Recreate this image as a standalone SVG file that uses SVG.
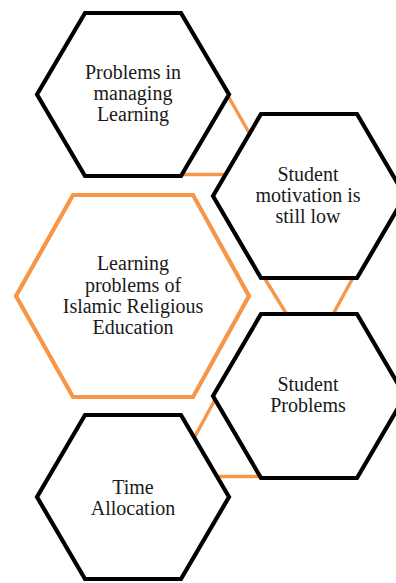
<svg xmlns="http://www.w3.org/2000/svg" width="396" height="583" viewBox="0 0 396 583">
<style>
.hex{fill:#fff;stroke:#000;stroke-width:4.2;stroke-linejoin:miter}
.hexo{fill:#fff;stroke:#F79646;stroke-width:4.2;stroke-linejoin:miter}
.con{stroke:#F79646;stroke-width:3.4;fill:none}
text{font-family:"Liberation Serif","Times New Roman",serif;font-size:20px;fill:#1a1a1a;text-anchor:middle}
</style>
<rect width="396" height="583" fill="#fff"/>
<g id="connectors">
<line class="con" x1="224" y1="89" x2="251" y2="136"/>
<line class="con" x1="178" y1="174.5" x2="228" y2="174.5"/>
<line class="con" x1="262" y1="274" x2="289" y2="318"/>
<line class="con" x1="355" y1="274" x2="331" y2="318"/>
<line class="con" x1="217" y1="396" x2="193" y2="440"/>
<line class="con" x1="215" y1="476.5" x2="262" y2="476.5"/>
</g>
<g id="node-managing">
<polygon class="hex" points="85,13 181,13 229,94.5 181,176 85,176 37,94.5"/>
<text x="133" y="79">Problems in</text>
<text x="133" y="100">managing</text>
<text x="133" y="120.5">Learning</text>
</g>
<g id="node-motivation">
<polygon class="hex" points="261,114 357,114 405,196 357,278 261,278 213,196"/>
<text x="308" y="181">Student</text>
<text x="308" y="202">motivation is</text>
<text x="308" y="223">still low</text>
</g>
<g id="node-center">
<polygon class="hexo" points="73,195 193,195 249,296 193,397 73,397 16,296"/>
<text x="133" y="270">Learning</text>
<text x="133" y="291.5">problems of</text>
<text x="133" y="312.5">Islamic Religious</text>
<text x="133" y="333.5">Education</text>
</g>
<g id="node-student">
<polygon class="hex" points="261,314 357,314 405,396 357,478 261,478 213,396"/>
<text x="308" y="391">Student</text>
<text x="308" y="412">Problems</text>
</g>
<g id="node-time">
<polygon class="hex" points="85,415 181,415 229,497 181,579 85,579 37,497"/>
<text x="133" y="493.5">Time</text>
<text x="133" y="515">Allocation</text>
</g>
</svg>
